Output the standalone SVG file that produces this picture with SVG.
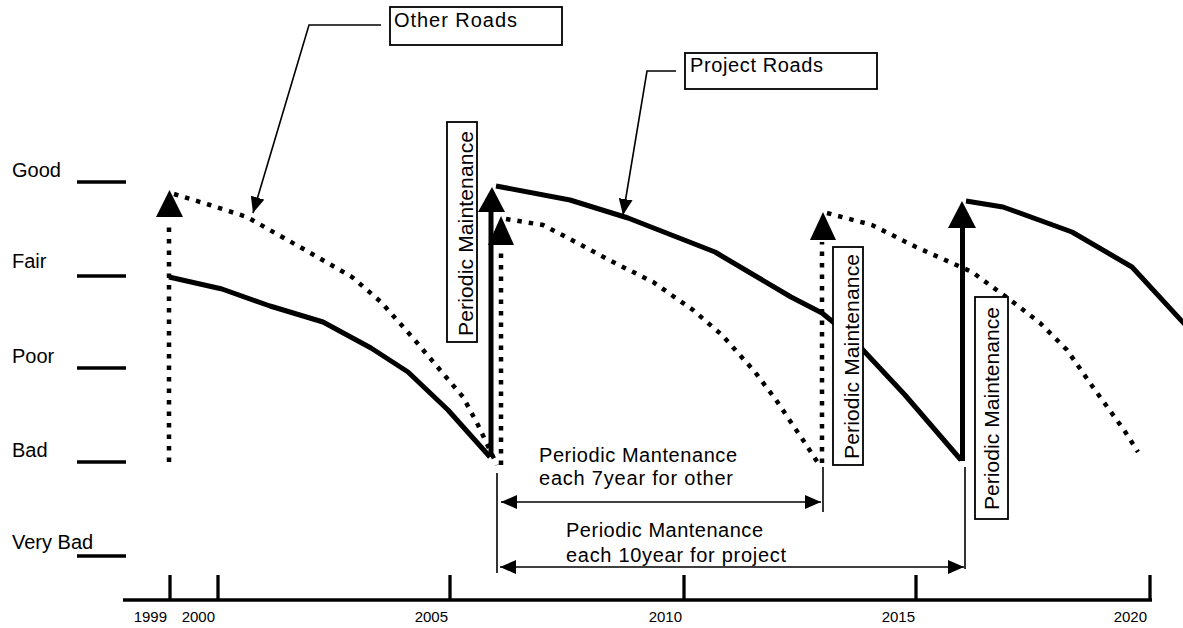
<svg xmlns="http://www.w3.org/2000/svg" width="1183" height="628" viewBox="0 0 1183 628">
<style>
text{font-family:"Liberation Sans",Arial,sans-serif;fill:#000}
.lbl{font-size:20px}
.rot{font-size:21px}
.yr{font-size:15px}
.tick{stroke:#000;stroke-width:3.3;fill:none}
.proj{stroke:#000;stroke-width:5;fill:none;stroke-linejoin:round}
.other{stroke:#000;stroke-width:4.5;fill:none;stroke-dasharray:4.5 7}
.thin{stroke:#000;stroke-width:1.6;fill:none}
.box{fill:#fff;stroke:#000;stroke-width:1.8}
.head{fill:#000;stroke:none}
</style>
<defs>
<marker id="ah" viewBox="0 0 16 14" refX="16" refY="7" markerUnits="userSpaceOnUse" markerWidth="16" markerHeight="14" orient="auto-start-reverse">
<path d="M0,0 L16,7 L0,14 z" fill="#000"/>
</marker>
</defs>
<rect width="1183" height="628" fill="#fff"/>
<g id="y-axis">
<text class="lbl" x="12" y="177">Good</text>
<text class="lbl" x="12" y="268">Fair</text>
<text class="lbl" x="12" y="363">Poor</text>
<text class="lbl" x="12" y="457">Bad</text>
<text class="lbl" x="12" y="549">Very Bad</text>
<line class="tick" x1="77" y1="182" x2="126" y2="182"/>
<line class="tick" x1="77" y1="276" x2="126" y2="276"/>
<line class="tick" x1="77" y1="368" x2="126" y2="368"/>
<line class="tick" x1="77" y1="462" x2="126" y2="462"/>
<line class="tick" x1="77" y1="556" x2="126" y2="556"/>
</g>
<g id="x-axis">
<line class="tick" x1="123" y1="600" x2="1152" y2="600"/>
<line class="tick" x1="170" y1="575" x2="170" y2="600"/>
<line class="tick" x1="218" y1="575" x2="218" y2="600"/>
<line class="tick" x1="450" y1="575" x2="450" y2="600"/>
<line class="tick" x1="684" y1="575" x2="684" y2="600"/>
<line class="tick" x1="916" y1="575" x2="916" y2="600"/>
<line class="tick" x1="1150" y1="575" x2="1150" y2="600"/>
<g class="yr" text-anchor="end">
<text x="167" y="622">1999</text>
<text x="215" y="622">2000</text>
<text x="448" y="622">2005</text>
<text x="682" y="622">2010</text>
<text x="915" y="622">2015</text>
<text x="1147" y="622">2020</text>
</g>
</g>
<g id="other-roads-series">
<line class="other" x1="169" y1="462" x2="169" y2="226"/>
<polygon class="head" points="156,217 183,217 169.5,190"/>
<polyline class="other" points="174,194 210,205 247,217 275,233 300,247 352,277 381,302 413,338 446,377 463,397 478,425 497,465"/>
<line class="other" x1="501" y1="465" x2="501" y2="247"/>
<polygon class="head" points="488,245 514,245 501,216"/>
<polyline class="other" points="506,219 543,225 566,237 585,247 609,260 653,282 693,310 722,335 755,372 776,400 803,440 818,463"/>
<line class="other" x1="822" y1="463" x2="822" y2="242"/>
<polygon class="head" points="810,240 836,240 823,212"/>
<polyline class="other" points="827,213 872,225 916,247 972,272 1013,302 1040,323 1067,350 1095,390 1124,430 1138,452"/>
</g>
<g id="project-roads-series">
<polyline class="proj" points="169,277 222,289 270,306 323,322 371,348 408,372 448,410 490,457"/>
<line class="proj" x1="491" y1="457" x2="491" y2="210"/>
<polygon class="head" points="478,212 505,212 492,187"/>
<polyline class="proj" points="496,186 570,200 628,218 715,252 791,297 822,313 849,335 905,395 961,460"/>
<line class="proj" x1="962.5" y1="461" x2="962.5" y2="226"/>
<polygon class="head" points="948,228 976,228 962,201"/>
<polyline class="proj" points="966,201 1003,207 1072,232 1132,267 1190,330"/>
</g>
<g id="label-other-roads">
<rect class="box" x="390" y="7" width="172" height="38"/>
<text class="lbl" x="394" y="27" textLength="123" lengthAdjust="spacing">Other Roads</text>
</g>
<g id="label-project-roads">
<rect class="box" x="685" y="53" width="192" height="36"/>
<text class="lbl" x="690" y="72" textLength="133" lengthAdjust="spacing">Project Roads</text>
</g>
<g id="label-pm-1">
<rect class="box" x="447" y="122" width="30" height="220"/>
<text class="rot" transform="translate(472.5,336) rotate(-90)" textLength="205" lengthAdjust="spacing">Periodic Maintenance</text>
</g>
<g id="label-pm-2">
<rect class="box" x="833" y="247" width="30" height="218"/>
<text class="rot" transform="translate(858.5,459) rotate(-90)" textLength="205" lengthAdjust="spacing">Periodic Maintenance</text>
</g>
<g id="label-pm-3">
<rect class="box" x="975" y="297" width="33" height="222"/>
<text class="rot" transform="translate(999,510) rotate(-90)" textLength="203" lengthAdjust="spacing">Periodic Maintenance</text>
</g>
<g id="label-interval-other">
<text class="lbl" font-size="21" x="539" y="462" textLength="198" lengthAdjust="spacing">Periodic Mantenance</text>
<text class="lbl" font-size="21" x="539" y="485" textLength="194" lengthAdjust="spacing">each 7year for other</text>
</g>
<g id="label-interval-project">
<text class="lbl" font-size="21" x="566" y="537" textLength="197" lengthAdjust="spacing">Periodic Mantenance</text>
<text class="lbl" font-size="21" x="566" y="562" textLength="220" lengthAdjust="spacing">each 10year for project</text>
</g>
<g id="connectors">
<polyline class="thin" points="381,25 309,25 253,213" marker-end="url(#ah)"/>
<polyline class="thin" points="676,71 647,71 623,215" marker-end="url(#ah)"/>
<line class="thin" x1="497" y1="473" x2="497" y2="573"/>
<line class="thin" x1="823" y1="467" x2="823" y2="512"/>
<line class="thin" x1="965" y1="467" x2="965" y2="569"/>
<line class="thin" x1="501" y1="502" x2="821" y2="502" marker-start="url(#ah)" marker-end="url(#ah)"/>
<line class="thin" x1="500" y1="567" x2="964" y2="567" marker-start="url(#ah)" marker-end="url(#ah)"/>
</g>
</svg>
